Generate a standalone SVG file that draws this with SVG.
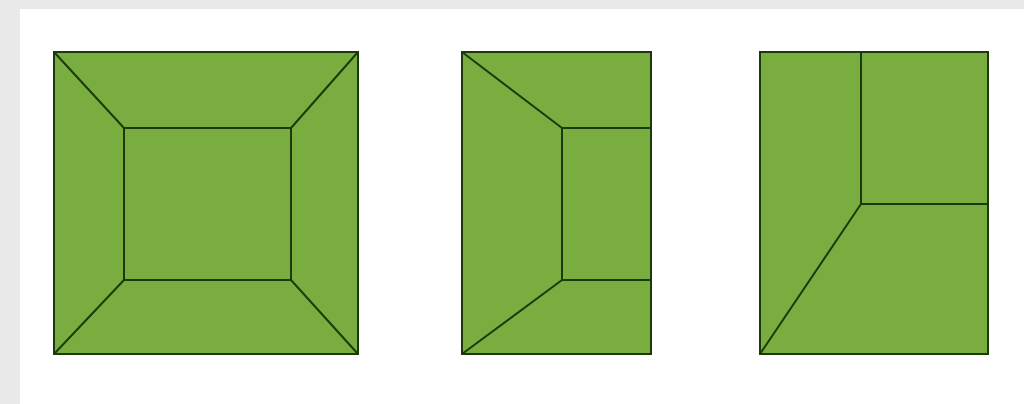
<svg xmlns="http://www.w3.org/2000/svg" width="1024" height="404" viewBox="0 0 1024 404">
<style>
.face{fill:#7aad3f;stroke:#1b3a0c;stroke-width:2;stroke-linejoin:miter}
.edge{fill:none;stroke:#1b3a0c;stroke-width:2}
</style>
<rect x="0" y="0" width="1024" height="404" fill="#e9e9e9"/>
<rect x="20" y="9" width="1004" height="395" fill="#ffffff"/>
<g id="shape1">
<rect class="face" x="54" y="52" width="304" height="302"/>
<rect class="edge" x="124" y="128" width="167" height="152"/>
<path class="edge" d="M54,52 L124,128 M358,52 L291,128 M54,354 L124,280 M358,354 L291,280"/>
</g>
<g id="shape2">
<rect class="face" x="462" y="52" width="189" height="302"/>
<path class="edge" d="M651,128 L562,128 L562,280 L651,280 M462,52 L562,128 M462,354 L562,280"/>
</g>
<g id="shape3">
<rect class="face" x="760" y="52" width="228" height="302"/>
<path class="edge" d="M861,52 L861,204 L988,204 M861,204 L760,354"/>
</g>
<g id="connectors"></g>
</svg>
